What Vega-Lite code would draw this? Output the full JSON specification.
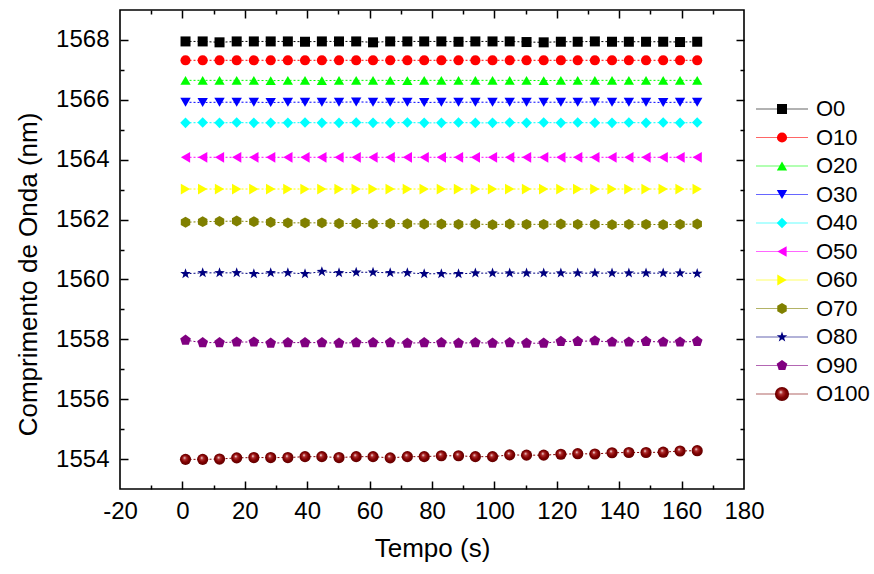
{
  "$schema": "https://vega.github.io/schema/vega-lite/v6.json",
  "padding": {"left": 14, "top": 8, "right": 0, "bottom": 5},
  "config": {
    "font": "Liberation Sans",
    "view": {"stroke": null},
    "axis": {"grid": false, "domain": false, "labelColor": "#000000", "titleColor": "#000000", "tickColor": "#000000", "tickWidth": 1.5, "titleFontWeight": "normal"}
  },
  "datasets": {
    "wave": [
      {"t": 1.0, "O0": 1567.95, "O10": 1567.32, "O20": 1566.65, "O30": 1565.92, "O40": 1565.23, "O50": 1564.08, "O60": 1563.02, "O70": 1561.91, "O80": 1560.19, "O90": 1557.97, "O100": 1553.99},
      {"t": 6.5, "O0": 1567.95, "O10": 1567.32, "O20": 1566.65, "O30": 1565.91, "O40": 1565.24, "O50": 1564.08, "O60": 1563.02, "O70": 1561.93, "O80": 1560.22, "O90": 1557.89, "O100": 1553.99},
      {"t": 11.9, "O0": 1567.92, "O10": 1567.32, "O20": 1566.65, "O30": 1565.92, "O40": 1565.23, "O50": 1564.08, "O60": 1563.02, "O70": 1561.94, "O80": 1560.22, "O90": 1557.89, "O100": 1554.00},
      {"t": 17.4, "O0": 1567.95, "O10": 1567.32, "O20": 1566.65, "O30": 1565.92, "O40": 1565.24, "O50": 1564.08, "O60": 1563.02, "O70": 1561.95, "O80": 1560.22, "O90": 1557.91, "O100": 1554.04},
      {"t": 22.9, "O0": 1567.95, "O10": 1567.32, "O20": 1566.65, "O30": 1565.92, "O40": 1565.23, "O50": 1564.08, "O60": 1563.02, "O70": 1561.93, "O80": 1560.19, "O90": 1557.91, "O100": 1554.05},
      {"t": 28.3, "O0": 1567.95, "O10": 1567.32, "O20": 1566.64, "O30": 1565.91, "O40": 1565.23, "O50": 1564.08, "O60": 1563.02, "O70": 1561.91, "O80": 1560.22, "O90": 1557.87, "O100": 1554.05},
      {"t": 33.8, "O0": 1567.95, "O10": 1567.32, "O20": 1566.65, "O30": 1565.92, "O40": 1565.23, "O50": 1564.08, "O60": 1563.02, "O70": 1561.89, "O80": 1560.22, "O90": 1557.89, "O100": 1554.05},
      {"t": 39.3, "O0": 1567.94, "O10": 1567.32, "O20": 1566.65, "O30": 1565.92, "O40": 1565.24, "O50": 1564.08, "O60": 1563.02, "O70": 1561.89, "O80": 1560.19, "O90": 1557.89, "O100": 1554.08},
      {"t": 44.7, "O0": 1567.95, "O10": 1567.32, "O20": 1566.64, "O30": 1565.92, "O40": 1565.23, "O50": 1564.08, "O60": 1563.02, "O70": 1561.89, "O80": 1560.26, "O90": 1557.89, "O100": 1554.08},
      {"t": 50.2, "O0": 1567.95, "O10": 1567.32, "O20": 1566.65, "O30": 1565.92, "O40": 1565.23, "O50": 1564.08, "O60": 1563.02, "O70": 1561.87, "O80": 1560.22, "O90": 1557.87, "O100": 1554.05},
      {"t": 55.7, "O0": 1567.95, "O10": 1567.32, "O20": 1566.65, "O30": 1565.93, "O40": 1565.24, "O50": 1564.08, "O60": 1563.02, "O70": 1561.87, "O80": 1560.24, "O90": 1557.89, "O100": 1554.08},
      {"t": 61.1, "O0": 1567.92, "O10": 1567.32, "O20": 1566.65, "O30": 1565.92, "O40": 1565.23, "O50": 1564.08, "O60": 1563.02, "O70": 1561.86, "O80": 1560.24, "O90": 1557.89, "O100": 1554.08},
      {"t": 66.6, "O0": 1567.95, "O10": 1567.32, "O20": 1566.65, "O30": 1565.92, "O40": 1565.23, "O50": 1564.08, "O60": 1563.02, "O70": 1561.87, "O80": 1560.22, "O90": 1557.89, "O100": 1554.04},
      {"t": 72.1, "O0": 1567.95, "O10": 1567.32, "O20": 1566.64, "O30": 1565.92, "O40": 1565.24, "O50": 1564.08, "O60": 1563.02, "O70": 1561.86, "O80": 1560.22, "O90": 1557.87, "O100": 1554.08},
      {"t": 77.5, "O0": 1567.95, "O10": 1567.32, "O20": 1566.65, "O30": 1565.91, "O40": 1565.23, "O50": 1564.08, "O60": 1563.02, "O70": 1561.85, "O80": 1560.19, "O90": 1557.89, "O100": 1554.08},
      {"t": 83.0, "O0": 1567.95, "O10": 1567.32, "O20": 1566.65, "O30": 1565.92, "O40": 1565.23, "O50": 1564.08, "O60": 1563.02, "O70": 1561.85, "O80": 1560.19, "O90": 1557.89, "O100": 1554.11},
      {"t": 88.5, "O0": 1567.94, "O10": 1567.32, "O20": 1566.65, "O30": 1565.92, "O40": 1565.24, "O50": 1564.08, "O60": 1563.02, "O70": 1561.84, "O80": 1560.19, "O90": 1557.87, "O100": 1554.11},
      {"t": 93.9, "O0": 1567.95, "O10": 1567.32, "O20": 1566.65, "O30": 1565.92, "O40": 1565.23, "O50": 1564.08, "O60": 1563.02, "O70": 1561.85, "O80": 1560.21, "O90": 1557.89, "O100": 1554.08},
      {"t": 99.4, "O0": 1567.95, "O10": 1567.32, "O20": 1566.65, "O30": 1565.92, "O40": 1565.23, "O50": 1564.08, "O60": 1563.02, "O70": 1561.83, "O80": 1560.21, "O90": 1557.87, "O100": 1554.08},
      {"t": 104.9, "O0": 1567.95, "O10": 1567.32, "O20": 1566.65, "O30": 1565.92, "O40": 1565.24, "O50": 1564.08, "O60": 1563.02, "O70": 1561.85, "O80": 1560.21, "O90": 1557.89, "O100": 1554.14},
      {"t": 110.3, "O0": 1567.93, "O10": 1567.32, "O20": 1566.65, "O30": 1565.92, "O40": 1565.23, "O50": 1564.08, "O60": 1563.02, "O70": 1561.84, "O80": 1560.21, "O90": 1557.87, "O100": 1554.13},
      {"t": 115.8, "O0": 1567.92, "O10": 1567.32, "O20": 1566.64, "O30": 1565.92, "O40": 1565.24, "O50": 1564.08, "O60": 1563.02, "O70": 1561.84, "O80": 1560.21, "O90": 1557.87, "O100": 1554.13},
      {"t": 121.3, "O0": 1567.94, "O10": 1567.32, "O20": 1566.65, "O30": 1565.92, "O40": 1565.23, "O50": 1564.08, "O60": 1563.02, "O70": 1561.85, "O80": 1560.21, "O90": 1557.93, "O100": 1554.16},
      {"t": 126.7, "O0": 1567.94, "O10": 1567.32, "O20": 1566.65, "O30": 1565.92, "O40": 1565.24, "O50": 1564.08, "O60": 1563.02, "O70": 1561.84, "O80": 1560.21, "O90": 1557.93, "O100": 1554.18},
      {"t": 132.2, "O0": 1567.95, "O10": 1567.32, "O20": 1566.65, "O30": 1565.93, "O40": 1565.23, "O50": 1564.08, "O60": 1563.02, "O70": 1561.84, "O80": 1560.21, "O90": 1557.95, "O100": 1554.17},
      {"t": 137.7, "O0": 1567.94, "O10": 1567.32, "O20": 1566.65, "O30": 1565.92, "O40": 1565.23, "O50": 1564.08, "O60": 1563.02, "O70": 1561.83, "O80": 1560.21, "O90": 1557.91, "O100": 1554.21},
      {"t": 143.1, "O0": 1567.94, "O10": 1567.32, "O20": 1566.65, "O30": 1565.92, "O40": 1565.24, "O50": 1564.08, "O60": 1563.02, "O70": 1561.84, "O80": 1560.21, "O90": 1557.91, "O100": 1554.22},
      {"t": 148.6, "O0": 1567.94, "O10": 1567.32, "O20": 1566.65, "O30": 1565.92, "O40": 1565.23, "O50": 1564.08, "O60": 1563.02, "O70": 1561.84, "O80": 1560.21, "O90": 1557.93, "O100": 1554.22},
      {"t": 154.1, "O0": 1567.94, "O10": 1567.32, "O20": 1566.65, "O30": 1565.91, "O40": 1565.24, "O50": 1564.08, "O60": 1563.02, "O70": 1561.83, "O80": 1560.21, "O90": 1557.91, "O100": 1554.23},
      {"t": 159.5, "O0": 1567.93, "O10": 1567.32, "O20": 1566.65, "O30": 1565.92, "O40": 1565.23, "O50": 1564.08, "O60": 1563.02, "O70": 1561.84, "O80": 1560.21, "O90": 1557.91, "O100": 1554.27},
      {"t": 165.0, "O0": 1567.94, "O10": 1567.32, "O20": 1566.65, "O30": 1565.92, "O40": 1565.24, "O50": 1564.08, "O60": 1563.02, "O70": 1561.85, "O80": 1560.20, "O90": 1557.93, "O100": 1554.28}
    ],
    "series": [
      {"s": "O0"}, {"s": "O10"}, {"s": "O20"}, {"s": "O30"}, {"s": "O40"}, {"s": "O50"},
      {"s": "O60"}, {"s": "O70"}, {"s": "O80"}, {"s": "O90"}, {"s": "O100"}
    ]
  },
  "bounds": "flush",
  "spacing": 12,
  "hconcat": [
    {
      "width": 624,
      "height": 479,
      "view": {"stroke": "#000000", "strokeWidth": 1.6},
      "data": {"name": "wave"},
      "transform": [
        {"fold": ["O0", "O10", "O20", "O30", "O40", "O50", "O60", "O70", "O80", "O90", "O100"], "as": ["s", "v"]}
      ],
      "encoding": {
        "x": {"field": "t", "type": "quantitative", "scale": {"domain": [-20, 180], "nice": false, "zero": false}},
        "y": {"field": "v", "type": "quantitative", "scale": {"domain": [1553, 1569], "nice": false, "zero": false}}
      },
      "layer": [
        {
          "mark": {"type": "line", "strokeWidth": 1, "strokeDash": [2, 2]},
          "encoding": {
            "x": {"field": "t", "type": "quantitative", "axis": {"orient": "bottom", "values": [-20, 0, 20, 40, 60, 80, 100, 120, 140, 160, 180], "labelExpr": "toString(datum.value)", "ticks": false, "labelFontSize": 24, "labelPadding": 10, "labelFlush": false, "title": "Tempo (s)", "titleFontSize": 26, "titlePadding": 12}},
            "y": {"field": "v", "type": "quantitative", "axis": {"orient": "left", "values": [1554, 1556, 1558, 1560, 1562, 1564, 1566, 1568], "labelExpr": "toString(datum.value)", "ticks": false, "labelFontSize": 24, "labelPadding": 11, "labelFlush": false, "title": "Comprimento de Onda (nm)", "titleFontSize": 26, "titlePadding": 14, "titleY": 264}},
            "color": {"field": "s", "type": "nominal", "legend": null, "scale": {"domain": ["O0", "O10", "O20", "O30", "O40", "O50", "O60", "O70", "O80", "O90", "O100"], "range": ["#000000", "#FF0000", "#00FF00", "#0000FF", "#00FFFF", "#FF00FF", "#FFFF00", "#808000", "#000080", "#800080", "#800000"]}},
            "detail": {"field": "s"}
          }
        },
        {
          "transform": [{"filter": "datum.s !== 'O100'"}],
          "mark": {"type": "point", "filled": true, "opacity": 1, "strokeWidth": 0},
          "encoding": {
            "x": {"field": "t", "type": "quantitative", "axis": {"orient": "bottom", "values": [0, 20, 40, 60, 80, 100, 120, 140, 160], "labels": false, "ticks": true, "tickSize": -8, "title": null}},
            "y": {"field": "v", "type": "quantitative", "axis": {"orient": "left", "values": [1554, 1556, 1558, 1560, 1562, 1564, 1566, 1568], "labels": false, "ticks": true, "tickSize": -8, "title": null}},
            "color": {"field": "s", "type": "nominal", "legend": null},
            "shape": {"field": "s", "type": "nominal", "legend": null, "scale": {"domain": ["O0", "O10", "O20", "O30", "O40", "O50", "O60", "O70", "O80", "O90"], "range": ["square", "circle", "triangle-up", "triangle-down", "diamond", "triangle-left", "triangle-right", "M0,-1L0.866,-0.5L0.866,0.5L0,1L-0.866,0.5L-0.866,-0.5Z", "M0,-1L0.235,-0.324L0.951,-0.309L0.38,0.124L0.588,0.809L0,0.4L-0.588,0.809L-0.38,0.124L-0.951,-0.309L-0.235,-0.324Z", "M0,-1L0.951,-0.309L0.588,0.809L-0.588,0.809L-0.951,-0.309Z"]}},
            "size": {"field": "s", "type": "nominal", "legend": null, "scale": {"domain": ["O0", "O10", "O20", "O30", "O40", "O50", "O60", "O70", "O80", "O90"], "range": [100, 125, 160, 160, 160, 160, 160, 150, 170, 150]}}
          }
        },
        {
          "transform": [{"filter": "datum.s === 'O100'"}],
          "mark": {"type": "point", "filled": true, "shape": "circle", "size": 125, "strokeWidth": 0, "opacity": 1,
            "fill": {"gradient": "radial", "x1": 0.4, "y1": 0.35, "r1": 0, "x2": 0.5, "y2": 0.5, "r2": 0.55, "stops": [{"offset": 0, "color": "#ffffff"}, {"offset": 0.25, "color": "#b03030"}, {"offset": 0.6, "color": "#800000"}, {"offset": 1, "color": "#5a0000"}]}},
          "encoding": {
            "x": {"field": "t", "type": "quantitative", "axis": {"orient": "bottom", "values": [-10, 10, 30, 50, 70, 90, 110, 130, 150, 170], "labels": false, "ticks": true, "tickSize": -4, "title": null}},
            "y": {"field": "v", "type": "quantitative", "axis": {"orient": "left", "values": [1555, 1557, 1559, 1561, 1563, 1565, 1567], "labels": false, "ticks": true, "tickSize": -4, "title": null}}
          }
        },
        {
          "mark": {"type": "point", "opacity": 0},
          "encoding": {
            "x": {"field": "t", "type": "quantitative", "axis": {"orient": "top", "values": [0, 20, 40, 60, 80, 100, 120, 140, 160], "labels": false, "ticks": true, "tickSize": -8, "title": null}},
            "y": {"field": "v", "type": "quantitative", "axis": {"orient": "right", "values": [1554, 1556, 1558, 1560, 1562, 1564, 1566, 1568], "labels": false, "ticks": true, "tickSize": -8, "title": null}}
          }
        },
        {
          "mark": {"type": "point", "opacity": 0},
          "encoding": {
            "x": {"field": "t", "type": "quantitative", "axis": {"orient": "top", "values": [-10, 10, 30, 50, 70, 90, 110, 130, 150, 170], "labels": false, "ticks": true, "tickSize": -4, "title": null}},
            "y": {"field": "v", "type": "quantitative", "axis": {"orient": "right", "values": [1555, 1557, 1559, 1561, 1563, 1565, 1567], "labels": false, "ticks": true, "tickSize": -4, "title": null}}
          }
        }
      ],
      "resolve": {"axis": {"x": "independent", "y": "independent"}}
    },
    {
      "width": 118,
      "height": 479,
      "data": {"name": "series"},
      "encoding": {
        "y": {"field": "s", "type": "nominal", "sort": null, "axis": null, "scale": {"type": "point", "range": [99, 384], "padding": 0}}
      },
      "layer": [
        {
          "mark": {"type": "rule", "strokeWidth": 1.2, "opacity": 0.6},
          "encoding": {
            "x": {"datum": 0, "type": "quantitative", "scale": {"domain": [0, 118], "nice": false, "zero": false}, "axis": null},
            "x2": {"datum": 52},
            "color": {"field": "s", "type": "nominal", "legend": null, "scale": {"domain": ["O0", "O10", "O20", "O30", "O40", "O50", "O60", "O70", "O80", "O90", "O100"], "range": ["#000000", "#FF0000", "#00FF00", "#0000FF", "#00FFFF", "#FF00FF", "#FFFF00", "#808000", "#000080", "#800080", "#800000"]}}
          }
        },
        {
          "transform": [{"filter": "datum.s !== 'O100'"}],
          "mark": {"type": "point", "filled": true, "opacity": 1, "strokeWidth": 0},
          "encoding": {
            "x": {"datum": 26, "type": "quantitative"},
            "color": {"field": "s", "type": "nominal", "legend": null},
            "shape": {"field": "s", "type": "nominal", "legend": null, "scale": {"domain": ["O0", "O10", "O20", "O30", "O40", "O50", "O60", "O70", "O80", "O90"], "range": ["square", "circle", "triangle-up", "triangle-down", "diamond", "triangle-left", "triangle-right", "M0,-1L0.866,-0.5L0.866,0.5L0,1L-0.866,0.5L-0.866,-0.5Z", "M0,-1L0.235,-0.324L0.951,-0.309L0.38,0.124L0.588,0.809L0,0.4L-0.588,0.809L-0.38,0.124L-0.951,-0.309L-0.235,-0.324Z", "M0,-1L0.951,-0.309L0.588,0.809L-0.588,0.809L-0.951,-0.309Z"]}},
            "size": {"field": "s", "type": "nominal", "legend": null, "scale": {"domain": ["O0", "O10", "O20", "O30", "O40", "O50", "O60", "O70", "O80", "O90"], "range": [170, 220, 280, 280, 280, 280, 280, 260, 300, 260]}}
          }
        },
        {
          "transform": [{"filter": "datum.s === 'O100'"}],
          "mark": {"type": "point", "filled": true, "shape": "circle", "size": 200, "strokeWidth": 0, "opacity": 1,
            "fill": {"gradient": "radial", "x1": 0.4, "y1": 0.35, "r1": 0, "x2": 0.5, "y2": 0.5, "r2": 0.55, "stops": [{"offset": 0, "color": "#ffffff"}, {"offset": 0.25, "color": "#b03030"}, {"offset": 0.6, "color": "#800000"}, {"offset": 1, "color": "#5a0000"}]}},
          "encoding": {
            "x": {"datum": 26, "type": "quantitative"}
          }
        },
        {
          "mark": {"type": "text", "align": "left", "baseline": "middle", "fontSize": 22, "color": "#000000"},
          "encoding": {
            "x": {"datum": 60, "type": "quantitative"},
            "text": {"field": "s"}
          }
        }
      ]
    }
  ]
}
